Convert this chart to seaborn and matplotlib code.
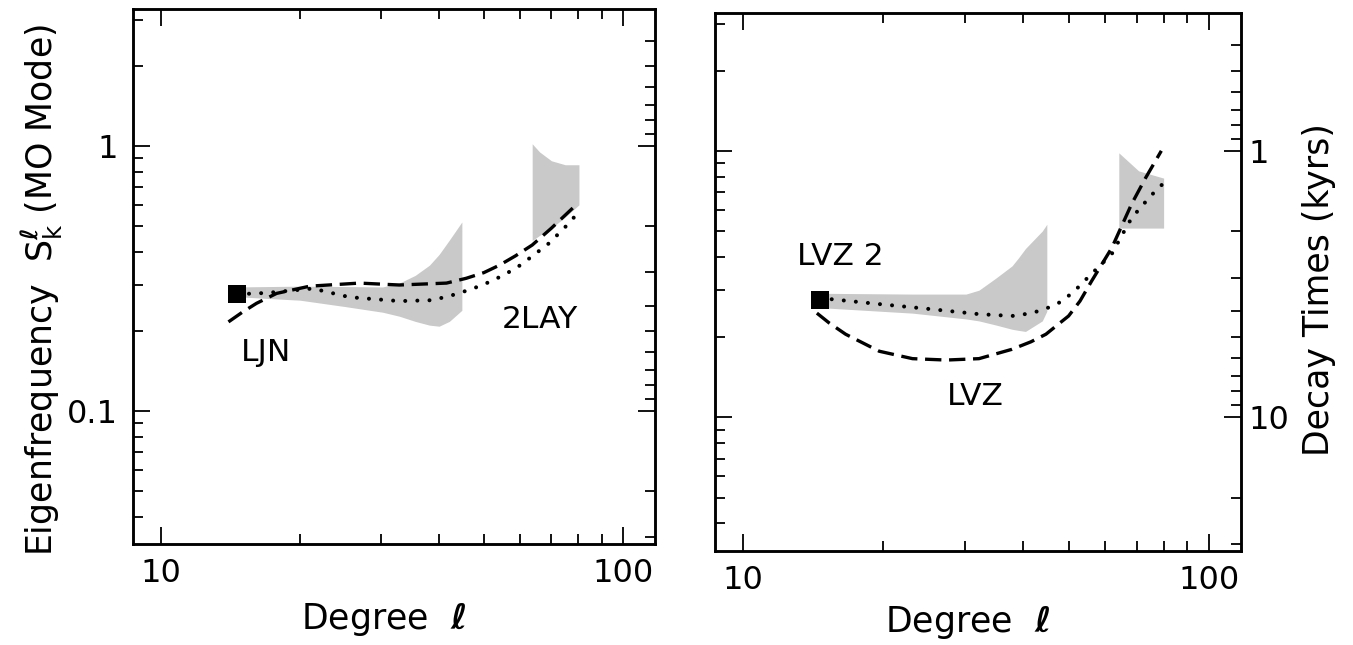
import matplotlib
matplotlib.use("Agg")
import matplotlib.pyplot as plt
import seaborn as sns
from matplotlib.ticker import FixedLocator, FixedFormatter, NullFormatter

# ---- data: degree l vs eigenfrequency S (MO mode) ----
# left panel
ljn_deg = [14.0, 15.0, 16.1, 17.8, 21.0, 26.9, 32.8, 41.5, 45.8, 50.0, 54.0, 58.5, 63.6, 70.0, 79.1]
ljn_freq = [0.217, 0.236, 0.255, 0.278, 0.296, 0.304, 0.299, 0.304, 0.317, 0.333, 0.355, 0.385, 0.423, 0.490, 0.599]

twolay_deg = [14.6, 16.9, 21.3, 25.6, 32.8, 38.7, 42.8, 46.0, 49.7, 54.0, 58.7, 63.5, 69.2, 75.0, 80.2]
twolay_freq = [0.276, 0.279, 0.290, 0.269, 0.260, 0.262, 0.274, 0.285, 0.299, 0.320, 0.346, 0.383, 0.430, 0.495, 0.563]

left_band1_deg = [14.6, 20.0, 25.0, 30.2, 32.8, 35.5, 38.1, 40.0, 42.1, 44.8]
left_band1_hi = [0.294, 0.296, 0.295, 0.294, 0.304, 0.325, 0.355, 0.390, 0.442, 0.517]
left_band1_lo = [0.270, 0.262, 0.248, 0.236, 0.228, 0.218, 0.211, 0.209, 0.218, 0.240]

left_band2_deg = [63.6, 66.0, 70.0, 75.0, 80.3]
left_band2_hi = [1.02, 0.95, 0.88, 0.85, 0.85]
left_band2_lo = [0.44, 0.46, 0.49, 0.54, 0.60]

# right panel
lvz_deg = [14.4, 15.3, 16.6, 19.6, 23.1, 27.3, 32.1, 37.8, 41.5, 44.7, 47.6, 50.0, 52.9, 56.0,
           61.9, 68.3, 73.2, 79.1]
lvz_freq = [0.246, 0.226, 0.205, 0.177, 0.166, 0.164, 0.166, 0.180, 0.192, 0.205, 0.224, 0.240,
            0.273, 0.324, 0.432, 0.632, 0.792, 1.0]

lvz2_deg = [14.6, 15.3, 19.6, 25.1, 32.0, 37.8, 41.7, 45.0, 48.3, 51.5, 55.4, 58.5, 61.9, 65.0,
            68.3, 75.2, 80.8]
lvz2_freq = [0.275, 0.278, 0.266, 0.255, 0.244, 0.240, 0.246, 0.257, 0.272, 0.298, 0.339, 0.372,
             0.410, 0.480, 0.560, 0.680, 0.770]

right_band1_deg = [14.6, 23.1, 30.1, 32.1, 34.9, 37.8, 39.0, 40.4, 43.9, 44.9]
right_band1_hi = [0.292, 0.290, 0.290, 0.300, 0.333, 0.370, 0.396, 0.430, 0.500, 0.530]
right_band1_lo = [0.258, 0.246, 0.234, 0.230, 0.222, 0.214, 0.212, 0.210, 0.230, 0.250]

right_band2_deg = [64.1, 70.7, 80.0]
right_band2_hi = [0.983, 0.841, 0.790]
right_band2_lo = [0.513, 0.513, 0.513]

# starting (observed) value
start_deg = [14.6]
start_freq = [0.276]

# axes ranges and ticks
deg_lim = (8.7, 117.3)
freq_lim = (0.0315, 3.29)
deg_major = [10, 100]
deg_major_labels = ["10", "100"]
deg_minor = [20, 30, 40, 50, 60, 70, 80, 90]
freq_major = [0.1, 1]
freq_major_labels = ["0.1", "1"]
freq_minor = [0.04, 0.05, 0.06, 0.07, 0.08, 0.09, 0.2, 0.3, 0.4, 0.5, 0.6, 0.7, 0.8, 0.9, 2, 3]
decay_major = [1, 10]
decay_major_labels = ["1", "10"]
decay_minor = [0.4, 0.5, 0.6, 0.7, 0.8, 0.9, 2, 3, 4, 5, 6, 7, 8, 9, 20, 30]

sns.set_theme(style="ticks")
plt.rcParams["font.family"] = ["DejaVu Sans"]
plt.rcParams["mathtext.fontset"] = "dejavusans"
plt.rcParams["text.color"] = "black"
plt.rcParams["axes.labelcolor"] = "black"
plt.rcParams["xtick.color"] = "black"
plt.rcParams["ytick.color"] = "black"

W, H = 1353, 645
fig = plt.figure(figsize=(W / 100, H / 100), dpi=100)
axL = fig.add_axes([133 / W, 1 - 544 / H, 522 / W, 535 / H])
axR = fig.add_axes([715 / W, 1 - 551 / H, 526 / W, 538 / H])

SHADE = "#c9c9c9"
DASH = (0, (4.9, 2.3))
DOT = (0, (0.01, 3.0))
TICKFS = 23


def style_axes(ax, left_labels, right_labels):
    ax.set_xscale("log")
    ax.set_yscale("log")
    ax.set_xlim(*deg_lim)
    ax.set_ylim(*freq_lim)
    ax.xaxis.set_major_locator(FixedLocator(deg_major))
    ax.xaxis.set_major_formatter(FixedFormatter(deg_major_labels))
    ax.xaxis.set_minor_locator(FixedLocator(deg_minor))
    ax.xaxis.set_minor_formatter(NullFormatter())
    ax.yaxis.set_major_locator(FixedLocator(freq_major))
    ax.yaxis.set_minor_locator(FixedLocator(freq_minor))
    ax.yaxis.set_minor_formatter(NullFormatter())
    if left_labels:
        ax.yaxis.set_major_formatter(FixedFormatter(freq_major_labels))
    else:
        ax.yaxis.set_major_formatter(NullFormatter())
    ax.tick_params(which="both", direction="in", top=True, right=False,
                   width=1.3, colors="black", labelcolor="black", labelsize=TICKFS)
    ax.tick_params(which="major", length=12)
    ax.tick_params(which="minor", length=7.5)
    ax.tick_params(axis="x", pad=10)
    ax.tick_params(axis="y", pad=11)
    for sp in ax.spines.values():
        sp.set_linewidth(1.8)
        sp.set_color("black")
    ax.set_xlabel("")
    ax.set_ylabel("")

    # decay time axis (tau = 1/S) on the right spine
    tw = ax.twinx()
    tw.set_yscale("log")
    tw.set_ylim(1 / freq_lim[0], 1 / freq_lim[1])
    tw.yaxis.set_major_locator(FixedLocator(decay_major))
    tw.yaxis.set_minor_locator(FixedLocator(decay_minor))
    tw.yaxis.set_minor_formatter(NullFormatter())
    if right_labels:
        tw.yaxis.set_major_formatter(FixedFormatter(decay_major_labels))
    else:
        tw.yaxis.set_major_formatter(NullFormatter())
    tw.tick_params(which="both", direction="in", width=1.3, colors="black",
                   labelcolor="black", labelsize=TICKFS, pad=5)
    tw.tick_params(which="major", length=12)
    tw.tick_params(which="minor", length=7.5)
    for sp in tw.spines.values():
        sp.set_linewidth(1.8)
        sp.set_color("black")
    tw.set_ylabel("")
    return tw


def draw_panel(ax, bands, dashed, dotted):
    for deg, lo, hi in bands:
        ax.fill_between(deg, lo, hi, color=SHADE, linewidth=0, zorder=1)
    sns.lineplot(x=dashed[0], y=dashed[1], ax=ax, color="black", linewidth=2.4,
                 linestyle=DASH, estimator=None, sort=False, zorder=3)
    sns.lineplot(x=dotted[0], y=dotted[1], ax=ax, color="black", linewidth=2.9,
                 linestyle=DOT, dash_capstyle="round", estimator=None, sort=False, zorder=3)
    sns.scatterplot(x=start_deg, y=start_freq, ax=ax, marker="s", s=170,
                    color="black", edgecolor="black", linewidth=0, zorder=5)


draw_panel(axL,
           [(left_band1_deg, left_band1_lo, left_band1_hi),
            (left_band2_deg, left_band2_lo, left_band2_hi)],
           (ljn_deg, ljn_freq), (twolay_deg, twolay_freq))
draw_panel(axR,
           [(right_band1_deg, right_band1_lo, right_band1_hi),
            (right_band2_deg, right_band2_lo, right_band2_hi)],
           (lvz_deg, lvz_freq), (lvz2_deg, lvz2_freq))

style_axes(axL, left_labels=True, right_labels=False)
style_axes(axR, left_labels=False, right_labels=True)

ANNFS = 22.5
axL.text(16.9, 0.166, "LJN", fontsize=ANNFS, ha="center", va="center")
axL.text(66.2, 0.221, "2LAY", fontsize=ANNFS, ha="center", va="center")
axR.text(16.2, 0.40, "LVZ 2", fontsize=ANNFS, ha="center", va="center")
axR.text(31.5, 0.12, "LVZ", fontsize=ANNFS, ha="center", va="center")

LABFS = 25
xlab = r"Degree  $\boldsymbol{\ell}$"
fig.text(384 / W, 1 - 629 / H, xlab, fontsize=LABFS, ha="center", va="baseline")
fig.text(968 / W, 1 - 632 / H, xlab, fontsize=LABFS, ha="center", va="baseline")
fig.text(42 / W, 1 - 290 / H, r"Eigenfrequency  $\mathrm{S}_{\mathrm{k}}^{\boldsymbol{\ell}}$ (MO Mode)",
         fontsize=LABFS, rotation=90, ha="center", va="center")
fig.text(1319 / W, 1 - 290 / H, "Decay Times (kyrs)", fontsize=LABFS,
         rotation=90, ha="center", va="center")

fig.savefig("out.png", dpi=100, facecolor="white")
